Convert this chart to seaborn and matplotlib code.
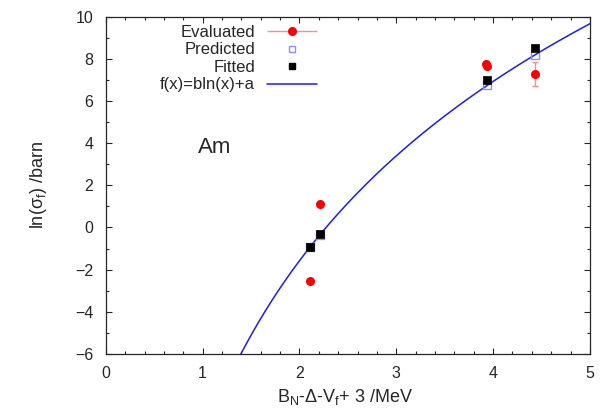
import numpy as np
import pandas as pd
import matplotlib
matplotlib.use('Agg')
import matplotlib.pyplot as plt
import seaborn as sns
from matplotlib.ticker import MultipleLocator
from matplotlib.legend_handler import HandlerErrorbar

# Datos
eval_x = [2.11, 2.21, 3.93, 3.94, 4.43]
eval_y = [-2.52, 1.13, 7.75, 7.65, 7.30]
eval_err = [0.0, 0.0, 0.0, 0.0, 0.57]

pred_x = [2.11, 2.21, 3.936, 4.43]
pred_y = [-0.92, -0.35, 6.77, 8.20]

fit_x = [2.11, 2.21, 3.936, 4.43]
fit_y = [-0.95, -0.30, 6.98, 8.52]

# parametros del ajuste f(x)=b ln(x)+a
b = 12.28
a = -10.09

sns.set_style('ticks')
plt.rcParams['font.family'] = ['Liberation Sans', 'DejaVu Sans']
plt.rcParams['mathtext.fontset'] = 'custom'
plt.rcParams['mathtext.rm'] = 'Liberation Sans'
plt.rcParams['mathtext.it'] = 'Liberation Sans:italic'

fig = plt.figure(figsize=(6.05, 4.11), dpi=100)
ax = fig.add_axes([0.175, 0.139, 0.80, 0.82])

# curva del ajuste
xs = np.linspace(1.0, 5.2, 300)
df_fit = pd.DataFrame({'x': xs, 'y': b * np.log(xs) + a})
sns.lineplot(data=df_fit, x='x', y='y', color='#1a1aff', lw=1.1, ax=ax, zorder=2)

# evaluados con barras de error
ax.errorbar(eval_x, eval_y, yerr=eval_err, fmt='o', color='#ff0000', ms=5.5,
            ecolor='#ff8c8c', elinewidth=1, capsize=2.5, zorder=3)

# predichos (cuadrado abierto)
sns.scatterplot(x=pred_x, y=pred_y, marker='s', s=30, facecolor='none',
                edgecolor='#8c8cff', linewidth=1, ax=ax, zorder=4)

# ajustados (cuadrado negro)
sns.scatterplot(x=fit_x, y=fit_y, marker='s', s=30, color='black',
                edgecolor='black', linewidth=0.5, ax=ax, zorder=5)

# manejadores para la leyenda
h1 = ax.errorbar([], [], xerr=[], fmt='o', color='#ff0000', ms=5.5,
                 ecolor='#ff8c8c', elinewidth=1, capsize=2.5)
h2 = ax.plot([], [], 's', mfc='none', mec='#8c8cff', ms=5, mew=1)[0]
h3 = ax.plot([], [], 's', color='black', ms=5)[0]
h4 = ax.plot([], [], '-', color='#1a1aff', lw=1.1)[0]
ax.legend([h1, h2, h3, h4], ['Evaluated', 'Predicted', 'Fitted', 'f(x)=bln(x)+a'],
          loc='upper right', bbox_to_anchor=(0.436, 0.976), frameon=False,
          markerfirst=False, fontsize=12, labelspacing=0.15, handlelength=3.0,
          handletextpad=0.7, borderpad=0, borderaxespad=0,
          handler_map={type(h1): HandlerErrorbar(xerr_size=1.5)})

ax.text(1.12, 3.8, 'Am', fontsize=16, ha='center', va='center')

ax.set_xlim(0, 5)
ax.set_ylim(-6, 10)
ax.xaxis.set_major_locator(MultipleLocator(1))
ax.xaxis.set_minor_locator(MultipleLocator(0.2))
ax.yaxis.set_major_locator(MultipleLocator(2))
ax.yaxis.set_minor_locator(MultipleLocator(1))
ax.tick_params(which='both', direction='in', top=True, right=True, labelsize=11.5)
ax.tick_params(which='major', length=4.5, width=0.8)
ax.tick_params(which='minor', length=2.5, width=0.8)
ax.tick_params(axis='x', pad=9)
ax.tick_params(axis='y', pad=9)
for s in ax.spines.values():
    s.set_linewidth(0.9)

ax.set_xlabel(r'B$_\mathrm{N}$-Δ-V$_\mathrm{f}$+ 3 /MeV', fontsize=13)
ax.set_ylabel(r'ln(σ$_\mathrm{f}$) /barn', fontsize=13)
ax.xaxis.set_label_coords(0.494, -0.098)
ax.yaxis.set_label_coords(-0.118, 0.5)

fig.savefig('out.png', dpi=100)
